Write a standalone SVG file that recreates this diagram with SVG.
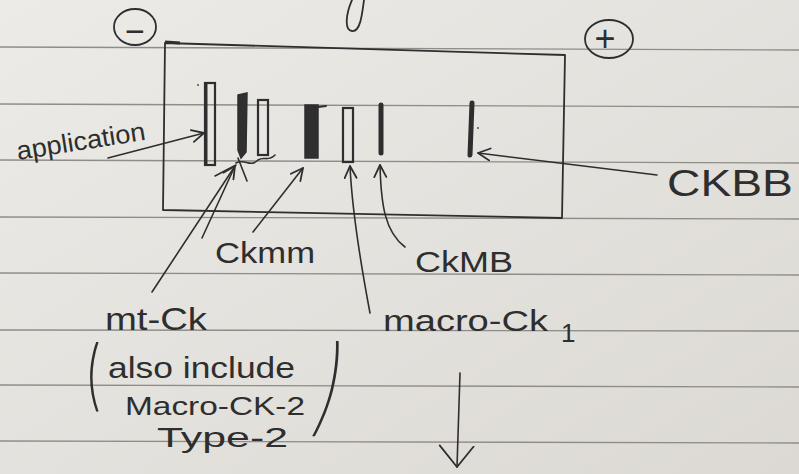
<svg xmlns="http://www.w3.org/2000/svg" width="799" height="474" viewBox="0 0 799 474">
  <defs>
    <linearGradient id="paper" x1="0" y1="0" x2="1" y2="1">
      <stop offset="0" stop-color="#ecebe7"/>
      <stop offset="1" stop-color="#dcd9d4"/>
    </linearGradient>
    <marker id="head" markerUnits="userSpaceOnUse" markerWidth="16" markerHeight="16" refX="13" refY="7" orient="auto">
      <path d="M1,1 L13,7 L1,13" fill="none" stroke="#2e2e2e" stroke-width="1.8" stroke-linecap="round" stroke-linejoin="round"/>
    </marker>
    <marker id="bighead" markerUnits="userSpaceOnUse" markerWidth="26" markerHeight="40" refX="22" refY="18" orient="auto">
      <path d="M1,2 L22,18 L1,36" fill="none" stroke="#2e2e2e" stroke-width="1.8" stroke-linecap="round" stroke-linejoin="round"/>
    </marker>
  </defs>
  <style>
    .rule { stroke: #8f8d89; stroke-width: 1.4; fill: none; }
    .ink { stroke: #2e2e2e; stroke-width: 1.8; fill: none; stroke-linecap: round; stroke-linejoin: round; }
    .bandopen { stroke: #2e2e2e; stroke-width: 2.2; fill: none; }
    .bandfill { fill: #2f2f2f; stroke: #2f2f2f; stroke-width: 1.5; }
    .conn { stroke: #2e2e2e; stroke-width: 1.6; fill: none; stroke-linecap: round; }
    .hand { font-family: "Liberation Sans", "DejaVu Sans", sans-serif; fill: #2e2e2e; }
    .paren { font-family: "Inter", "Open Sans", "Liberation Sans", sans-serif; font-weight: 200; fill: #2e2e2e; }
  </style>

  <!-- paper -->
  <rect x="0" y="0" width="799" height="474" fill="url(#paper)"/>
  <g id="ruling">
    <line class="rule" x1="0" y1="47" x2="799" y2="50"/>
    <line class="rule" x1="0" y1="104" x2="799" y2="107"/>
    <line class="rule" x1="0" y1="160" x2="799" y2="163"/>
    <line class="rule" x1="0" y1="217" x2="799" y2="219"/>
    <line class="rule" x1="0" y1="273" x2="799" y2="275"/>
    <line class="rule" x1="0" y1="330" x2="799" y2="331"/>
    <line class="rule" x1="0" y1="385" x2="799" y2="387"/>
    <line class="rule" x1="0" y1="441" x2="799" y2="443"/>
  </g>

  <!-- stray stroke from previous line -->
  <path class="ink" d="M352,0 C346,14 344,30 352,31 C360,32 362,16 364,0"/>

  <!-- gel / electrophoresis strip -->
  <g id="gel">
    <path class="ink" d="M165,43 L565,55 L562,218 L163,210 Z"/>
    <path d="M165,42 L180,43" stroke="#2e2e2e" stroke-width="3"/>
  </g>

  <g id="pole-minus">
    <ellipse class="ink" cx="135" cy="27" rx="21" ry="18"/>
    <text class="hand" x="135" y="43" font-size="34" text-anchor="middle">−</text>
  </g>
  <g id="pole-plus">
    <ellipse class="ink" cx="609" cy="39" rx="24" ry="19"/>
    <text class="hand" x="605" y="51" font-size="36" text-anchor="middle">+</text>
  </g>

  <!-- bands -->
  <g id="band-application">
    <rect class="bandopen" x="205" y="83" width="10" height="82"/>
    <line x1="206" y1="83" x2="206" y2="165" stroke="#2e2e2e" stroke-width="3"/>
    <circle cx="198" cy="85" r="1" fill="#555"/>
  </g>
  <g id="band-mtck">
    <path class="bandfill" d="M238,95 L247,93 L246,152 L241,158 L238,150 Z"/>
  </g>
  <g id="band-mtck-2">
    <rect class="bandopen" x="258" y="100" width="10" height="55"/>
  </g>
  <g id="band-ckmm">
    <rect class="bandfill" x="305" y="105" width="13" height="53"/>
    <line class="ink" x1="318" y1="107" x2="326" y2="106"/>
  </g>
  <g id="band-macro-ck1">
    <rect class="bandopen" x="343" y="108" width="10" height="54"/>
  </g>
  <g id="band-ckmb">
    <line x1="381" y1="105" x2="381" y2="153" stroke="#2e2e2e" stroke-width="5" stroke-linecap="round"/>
  </g>
  <g id="band-ckbb">
    <line x1="472" y1="103" x2="470" y2="155" stroke="#2e2e2e" stroke-width="5" stroke-linecap="round"/>
    <circle cx="478" cy="128" r="1" fill="#555"/>
  </g>

  <!-- connectors -->
  <g id="connectors">
    <line class="conn" x1="108" y1="158" x2="204" y2="133" marker-end="url(#head)"/>
    <line class="conn" x1="152" y1="292" x2="235" y2="166" marker-end="url(#head)"/>
    <line class="conn" x1="202" y1="238" x2="235" y2="166"/>
    <path class="conn" d="M215,176 L236,165 M238,158 L247,181"/>
    <path class="conn" d="M236,163 C245,158 250,168 258,160 C264,156 268,162 275,155"/>
    <line class="conn" x1="253" y1="232" x2="303" y2="168" marker-end="url(#head)"/>
    <path class="conn" d="M370,313 C360,260 352,210 350,166" marker-end="url(#head)"/>
    <path class="conn" d="M405,247 C385,232 381,205 380,165" marker-end="url(#head)"/>
    <line class="conn" x1="657" y1="175" x2="478" y2="153" marker-end="url(#head)"/>
    <line class="conn" x1="460" y1="373" x2="457" y2="467" marker-end="url(#bighead)"/>
  </g>

  <!-- labels -->
  <g id="label-application">
    <text class="hand" font-size="26" transform="translate(18,160) rotate(-9)" textLength="130" lengthAdjust="spacingAndGlyphs">application</text>
  </g>
  <g id="label-ckmm">
    <text class="hand" x="215" y="263" font-size="30" textLength="100" lengthAdjust="spacingAndGlyphs">Ckmm</text>
  </g>
  <g id="label-ckmb">
    <text class="hand" x="415" y="272" font-size="30" textLength="98" lengthAdjust="spacingAndGlyphs">CkMB</text>
  </g>
  <g id="label-ckbb">
    <text class="hand" x="667" y="196" font-size="36" textLength="126" lengthAdjust="spacingAndGlyphs">CKBB</text>
  </g>
  <g id="label-mtck">
    <text class="hand" x="105" y="330" font-size="32" textLength="102" lengthAdjust="spacingAndGlyphs">mt-Ck</text>
    <text class="paren" font-size="30" transform="translate(84,401) scale(1.8,2.55)">(</text>
    <text class="hand" x="108" y="378" font-size="30" textLength="187" lengthAdjust="spacingAndGlyphs">also include</text>
    <text class="hand" x="125" y="415" font-size="26" textLength="180" lengthAdjust="spacingAndGlyphs">Macro-CK-2</text>
    <text class="hand" x="157" y="447" font-size="28" textLength="131" lengthAdjust="spacingAndGlyphs">Type-2</text>
    <text class="paren" font-size="30" transform="translate(312,422) skewX(-14) scale(2,3.5)">)</text>
  </g>
  <g id="label-macro-ck1">
    <text class="hand" x="383" y="331" font-size="30" textLength="165" lengthAdjust="spacingAndGlyphs">macro-Ck</text>
    <text class="hand" x="561" y="342" font-size="26">1</text>
  </g>
</svg>
